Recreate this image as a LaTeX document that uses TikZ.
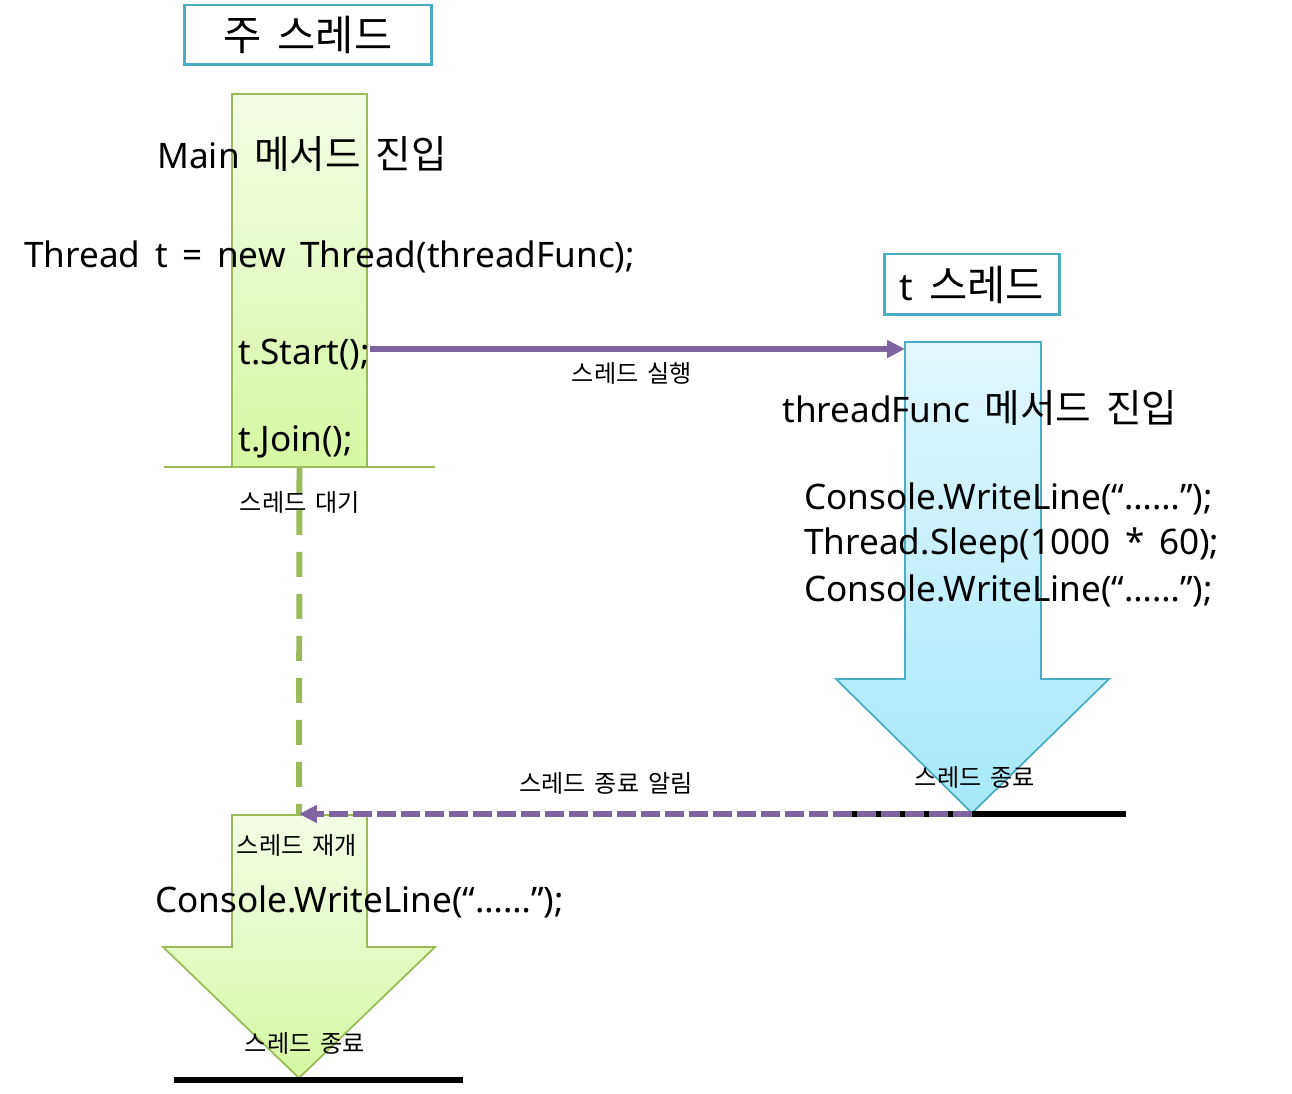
\documentclass[tikz,border=0pt]{standalone}
\usepackage{fontspec}
\setmainfont[WordSpace=1.6]{Noto Sans}
\newfontfamily\kr[Scale=1.1, WordSpace=1.7]{Noto Sans CJK KR}
\usetikzlibrary{arrows.meta}
\definecolor{tealc}{HTML}{4BACC6}
\definecolor{greenc}{HTML}{9BBB59}
\definecolor{purplec}{HTML}{8064A2}
\definecolor{greentop}{HTML}{F3FDE6}
\definecolor{greenbot}{HTML}{D6F7A2}
\definecolor{bluetop}{HTML}{E2F7FD}
\definecolor{bluebot}{HTML}{A6E9FB}
\begin{document}
\begin{tikzpicture}[x=0.02cm, y=-0.02cm,
    title/.style={rectangle, draw=tealc, line width=1.7pt, inner sep=0, font=\kr\fontsize{21.5}{26}\selectfont},
    code/.style={anchor=base west, inner sep=0, font=\fontsize{20}{24}\selectfont},
    note/.style={inner sep=0, font=\kr\fontsize{12.5}{15}\selectfont},
    greenbar/.style={draw=greenc, line width=1pt, top color=greentop, bottom color=greenbot},
    bluebar/.style={draw=tealc, line width=1pt, top color=bluetop, bottom color=bluebot},
    flow/.style={-{Triangle[length=0.36cm, width=0.34cm]}, draw=purplec, line width=3pt},
    notify/.style={flow, line width=3.4pt, dash pattern=on 0.38cm off 0.1cm},
    wait/.style={draw=greenc, line width=3.4pt, dash pattern=on 0.5cm off 0.34cm},
    endline/.style={draw=black, line width=3pt}
]
\useasboundingbox (0,0) rectangle (1292,1094);

% Main thread
\node[title, minimum width=4.96cm, minimum height=1.2cm] (mainttl) at (308,35) {주 스레드};
\node[greenbar, minimum width=2.7cm, minimum height=7.46cm, inner sep=0] (mainbar) at (299.5,280.5) {};
\draw[greenc, line width=1.2pt] (164,467) -- (435,467);
\node[code] (mainin) at (157,169) {Main {\kr 메서드 진입}};
\node[code] (newt) at (24,268) {Thread t = new Thread(threadFunc);};
\node[code] (start) at (238,365) {t.Start();};
\node[code] (join) at (238,452) {t.Join();};
\node[note] (waitlbl) at (300,502) {스레드 대기};

% t thread
\node[title, minimum width=3.52cm, minimum height=1.22cm] (tttl) at (972,284.5) {{\fontspec{Noto Sans}t} 스레드};
\path[bluebar] (905,342) -- (1041,342) -- (1041,679) -- (1109,679) -- (972,813)
    -- (836,679) -- (905,679) -- cycle;
\coordinate (tbegin) at (905,349);
\coordinate (tend) at (972,814);
\node[code] (funcin) at (782,423) {threadFunc {\kr 메서드 진입}};
\node[code] (write1) at (804,510) {Console.WriteLine(“……”);};
\node[code] (sleep) at (804,555) {Thread.Sleep(1000 * 60);};
\node[code] (write2) at (804,602) {Console.WriteLine(“……”);};
\node[note] (tendlbl) at (975,777) {스레드 종료};
\draw[endline] (850,814) -- (1126,814);

% Resume
\coordinate (resume) at (299,814);
\path[greenbar] (232,815) -- (367,815) -- (367,947) -- (435,947) -- (299,1078)
    -- (163,947) -- (232,947) -- cycle;
\node[note] (resumelbl) at (297,845) {스레드 재개};
\node[code] (write3) at (155,912) {Console.WriteLine(“……”);};
\node[note] (mainendlbl) at (305,1043) {스레드 종료};
\draw[endline] (174,1080) -- (463,1080);

% Arrows
\draw[flow] (start.east |- tbegin) -- (tbegin);
\node[note] (runlbl) at (632,373) {스레드 실행};
\draw[wait] (mainbar.south) -- (resume);
\draw[notify] (tend) -- (resume);
\node[note] (notifylbl) at (606,783) {스레드 종료 알림};
\end{tikzpicture}
\end{document}
